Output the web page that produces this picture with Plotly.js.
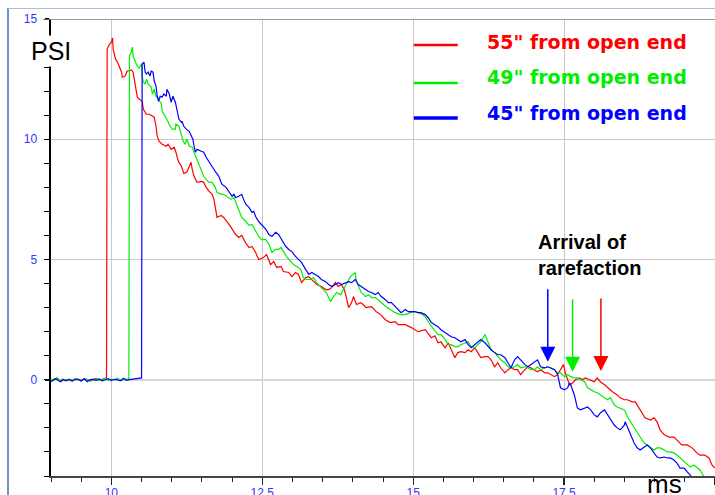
<!DOCTYPE html>
<html>
<head>
<meta charset="utf-8">
<script src="https://cdn.plot.ly/plotly-3.0.1.min.js"></script>
<style>
  html, body { margin: 0; padding: 0; background: #fff; overflow: hidden; }
  #frame { position: absolute; left: 7px; top: 8px; width: 720px; height: 500px;
           border-left: 2px solid #6f93c2; border-top: 1px solid #a9bfdc; pointer-events: none; }
  #chart { position: absolute; left: 0; top: 0; width: 715px; height: 495px; }
</style>
</head>
<body>
<div id="frame"></div>
<div id="chart"></div>
<script>
// Pressure traces: [time in ms, pressure in PSI]
const psi55 = [
  [9.00,-0.05],[9.05,0.02],[9.10,0.08],[9.15,-0.04],[9.20,0.03],[9.25,-0.02],[9.30,0.00],[9.35,-0.06],[9.40,0.04],[9.45,0.01],
  [9.50,-0.03],[9.55,0.05],[9.60,0.00],[9.65,-0.04],[9.70,0.02],[9.75,0.06],[9.80,-0.02],[9.85,0.03],[9.90,0.05],[9.92,0.08],
  [9.93,13.75],[9.97,13.96],[10.00,14.04],[10.02,14.21],[10.03,13.75],[10.07,13.33],[10.10,13.21],[10.13,13.00],[10.17,12.79],[10.18,12.58],
  [10.23,12.63],[10.26,12.83],[10.33,12.88],[10.36,12.79],[10.38,12.50],[10.41,12.08],[10.43,11.75],[10.46,11.67],[10.51,11.58],[10.53,11.25],
  [10.58,11.04],[10.63,11.04],[10.68,10.96],[10.71,10.92],[10.74,10.54],[10.76,10.13],[10.79,9.92],[10.84,9.79],[10.91,9.71],[10.94,9.79],
  [10.99,9.58],[11.04,9.67],[11.07,9.46],[11.11,9.08],[11.16,8.88],[11.20,8.58],[11.25,8.63],[11.29,8.83],[11.32,9.04],[11.34,8.75],
  [11.37,8.46],[11.42,8.21],[11.49,8.25],[11.53,8.21],[11.57,8.00],[11.62,7.83],[11.67,7.71],[11.70,7.50],[11.73,7.08],[11.75,6.75],
  [11.82,6.83],[11.86,6.75],[11.95,6.46],[12.00,6.25],[12.06,6.04],[12.11,5.92],[12.16,6.00],[12.23,5.67],[12.28,5.50],[12.33,5.54],
  [12.39,5.29],[12.44,5.00],[12.52,5.08],[12.57,5.21],[12.64,4.79],[12.69,4.92],[12.74,4.67],[12.81,4.71],[12.85,4.50],[12.94,4.46],
  [12.99,4.29],[13.05,4.46],[13.10,4.38],[13.15,4.04],[13.22,4.25],[13.27,4.29],[13.32,4.17],[13.40,3.96],[13.48,3.88],[13.55,3.75],
  [13.60,3.75],[13.65,3.83],[13.71,4.04],[13.76,3.88],[13.81,3.96],[13.86,3.75],[13.89,3.46],[13.93,3.00],[13.98,3.21],[14.01,3.46],
  [14.06,3.13],[14.13,3.21],[14.17,3.13],[14.22,3.00],[14.31,3.04],[14.39,2.83],[14.46,2.71],[14.54,2.50],[14.62,2.38],[14.70,2.42],
  [14.75,2.29],[14.87,2.29],[14.97,2.17],[15.08,2.00],[15.20,2.08],[15.30,1.75],[15.36,1.83],[15.41,1.54],[15.46,1.58],[15.53,1.33],
  [15.58,1.54],[15.63,1.25],[15.69,0.92],[15.74,1.13],[15.79,1.17],[15.86,1.13],[15.91,1.25],[15.96,1.17],[16.02,1.33],[16.07,1.13],
  [16.12,0.92],[16.19,0.96],[16.24,0.96],[16.29,0.83],[16.35,0.54],[16.40,0.71],[16.45,0.50],[16.52,0.29],[16.57,0.42],[16.62,0.50],
  [16.68,0.42],[16.73,0.42],[16.78,0.21],[16.85,0.42],[16.90,0.54],[16.95,0.50],[17.01,0.42],[17.06,0.33],[17.11,0.42],[17.18,0.29],
  [17.23,0.29],[17.28,0.21],[17.34,0.13],[17.39,0.21],[17.44,0.42],[17.49,0.63],[17.52,0.29],[17.59,-0.21],[17.64,-0.13],[17.69,0.00],
  [17.76,0.08],[17.80,0.00],[17.85,0.08],[17.92,0.00],[18.00,-0.08],[18.05,0.08],[18.10,-0.08],[18.17,-0.21],[18.22,-0.33],[18.30,-0.50],
  [18.38,-0.63],[18.43,-0.75],[18.50,-0.83],[18.55,-0.83],[18.63,-0.92],[18.68,-0.92],[18.74,-1.17],[18.79,-1.38],[18.84,-1.58],[18.93,-1.67],
  [18.99,-1.58],[19.04,-1.75],[19.09,-2.08],[19.16,-2.29],[19.24,-2.38],[19.32,-2.38],[19.41,-2.58],[19.45,-2.71],[19.54,-2.71],[19.62,-2.83],
  [19.70,-3.04],[19.75,-3.13],[19.83,-3.13],[19.90,-3.25],[19.95,-3.54],[20.00,-3.67]
];

const psi49 = [
  [9.00,-0.03],[9.05,0.04],[9.10,0.07],[9.15,-0.05],[9.20,0.02],[9.25,-0.01],[9.30,0.03],[9.35,-0.07],[9.40,0.05],[9.45,0.00],
  [9.50,-0.04],[9.55,0.04],[9.60,0.02],[9.65,-0.05],[9.70,0.01],[9.75,0.05],[9.80,-0.03],[9.85,0.02],[9.90,0.06],[9.95,-0.02],
  [10.00,0.03],[10.05,0.00],[10.10,0.07],[10.15,-0.02],[10.20,0.01],[10.25,0.03],[10.29,0.04],
  [10.30,13.46],[10.33,13.63],[10.35,13.83],[10.36,13.46],[10.40,13.21],[10.43,13.04],[10.46,12.96],[10.50,13.13],[10.51,12.63],[10.53,12.38],
  [10.56,12.29],[10.58,12.50],[10.61,12.29],[10.66,12.17],[10.68,11.88],[10.71,12.08],[10.74,11.79],[10.78,11.67],[10.83,11.46],[10.84,11.17],
  [10.89,10.96],[10.92,10.83],[10.97,10.54],[11.01,10.42],[11.06,10.42],[11.07,10.63],[11.12,10.54],[11.16,10.13],[11.19,9.92],[11.22,9.79],
  [11.25,10.00],[11.29,9.71],[11.34,9.67],[11.37,9.46],[11.42,9.17],[11.49,8.75],[11.53,8.46],[11.57,8.33],[11.62,8.21],[11.67,8.21],
  [11.72,8.00],[11.75,7.79],[11.82,7.71],[11.86,7.71],[11.91,7.63],[11.98,7.50],[12.03,7.58],[12.06,7.38],[12.11,7.00],[12.16,6.75],
  [12.23,6.58],[12.28,6.42],[12.33,6.46],[12.39,6.17],[12.44,5.96],[12.49,5.83],[12.56,5.83],[12.61,5.63],[12.66,5.29],[12.72,5.42],
  [12.77,5.42],[12.81,5.50],[12.85,5.33],[12.90,5.13],[12.97,4.92],[13.02,4.79],[13.07,4.71],[13.14,4.58],[13.18,4.25],[13.23,4.17],
  [13.30,4.17],[13.35,4.25],[13.40,4.04],[13.47,3.88],[13.51,3.75],[13.56,3.63],[13.63,3.25],[13.68,3.46],[13.73,3.63],[13.80,3.54],
  [13.84,3.75],[13.89,3.96],[13.96,4.29],[14.01,4.38],[14.04,4.46],[14.06,4.08],[14.09,3.88],[14.14,3.63],[14.21,3.46],[14.26,3.54],
  [14.31,3.42],[14.37,3.42],[14.42,3.33],[14.47,3.21],[14.55,3.04],[14.62,2.92],[14.70,2.79],[14.79,2.71],[14.87,2.71],[14.95,2.79],
  [15.03,2.83],[15.08,2.79],[15.16,2.71],[15.21,2.58],[15.28,2.29],[15.35,2.08],[15.41,1.88],[15.46,1.88],[15.53,1.67],[15.58,1.46],
  [15.63,1.46],[15.69,1.38],[15.74,1.38],[15.79,1.46],[15.86,1.54],[15.91,1.58],[15.96,1.38],[16.02,1.33],[16.07,1.46],[16.12,1.58],
  [16.19,1.88],[16.24,1.58],[16.29,1.25],[16.35,1.13],[16.40,0.96],[16.45,0.83],[16.52,0.71],[16.57,0.54],[16.62,0.50],[16.68,0.54],
  [16.73,0.63],[16.78,0.50],[16.85,0.54],[16.90,0.50],[16.95,0.42],[17.01,0.42],[17.06,0.54],[17.11,0.42],[17.18,0.50],[17.23,0.54],
  [17.28,0.50],[17.34,0.42],[17.39,0.29],[17.44,0.29],[17.51,0.13],[17.56,0.21],[17.61,0.13],[17.67,0.08],[17.72,0.08],[17.77,0.00],
  [17.84,-0.08],[17.89,-0.33],[17.94,-0.42],[18.00,-0.50],[18.05,-0.54],[18.10,-0.63],[18.17,-0.75],[18.22,-0.83],[18.27,-0.75],[18.33,-1.04],
  [18.38,-1.13],[18.43,-1.17],[18.50,-1.25],[18.55,-1.54],[18.60,-1.75],[18.66,-2.00],[18.71,-2.17],[18.76,-2.38],[18.83,-2.63],[18.88,-2.71],
  [18.93,-2.79],[18.99,-2.92],[19.04,-2.83],[19.09,-2.83],[19.16,-2.92],[19.21,-3.00],[19.26,-3.00],[19.32,-3.04],[19.37,-3.13],[19.42,-3.25],
  [19.49,-3.42],[19.54,-3.54],[19.59,-3.63],[19.65,-3.54],[19.70,-3.63],[19.75,-3.75],[19.82,-4.04],[19.87,-4.25]
];

const psi45 = [
  [9.00,-0.08],[9.04,-0.02],[9.08,0.04],[9.12,-0.03],[9.16,-0.08],[9.20,0.00],[9.25,-0.04],[9.30,0.02],[9.35,-0.03],[9.40,0.00],
  [9.45,0.03],[9.50,-0.05],[9.55,0.04],[9.60,-0.08],[9.65,0.01],[9.70,0.02],[9.75,-0.02],[9.80,0.04],[9.85,-0.04],[9.90,0.00],
  [9.95,0.05],[10.00,-0.03],[10.05,0.02],[10.10,0.00],[10.15,-0.04],[10.20,0.06],[10.25,-0.02],[10.30,0.01],[10.35,0.03],[10.40,0.04],
  [10.45,0.06],[10.50,0.08],
  [10.51,13.13],[10.54,13.21],[10.56,12.79],[10.58,12.71],[10.61,12.79],[10.64,12.63],[10.66,12.83],[10.69,12.79],[10.71,12.42],[10.74,12.21],
  [10.76,11.79],[10.78,11.58],[10.81,11.79],[10.84,11.75],[10.87,11.88],[10.91,11.79],[10.92,12.08],[10.96,11.88],[10.99,11.54],[11.02,11.79],
  [11.06,11.54],[11.09,11.13],[11.12,10.83],[11.16,10.71],[11.17,10.75],[11.20,10.54],[11.24,10.42],[11.29,10.33],[11.32,10.13],[11.35,10.00],
  [11.39,9.46],[11.42,9.58],[11.49,9.50],[11.53,9.46],[11.57,9.25],[11.62,9.04],[11.67,8.83],[11.73,8.63],[11.78,8.46],[11.83,8.13],
  [11.90,8.00],[11.95,7.79],[12.00,7.63],[12.03,7.71],[12.06,7.58],[12.11,7.63],[12.16,7.71],[12.19,7.50],[12.23,7.29],[12.28,7.17],
  [12.33,6.96],[12.36,7.00],[12.39,6.79],[12.44,6.58],[12.49,6.46],[12.56,6.25],[12.61,6.04],[12.66,5.96],[12.72,6.13],[12.77,6.04],
  [12.82,5.83],[12.89,5.54],[12.94,5.42],[12.99,5.33],[13.05,5.13],[13.10,5.00],[13.15,4.88],[13.22,4.58],[13.27,4.38],[13.32,4.46],
  [13.38,4.38],[13.43,4.29],[13.48,4.17],[13.55,4.08],[13.60,3.96],[13.65,3.88],[13.71,3.96],[13.76,4.04],[13.81,3.96],[13.88,4.04],
  [13.93,4.08],[13.98,4.04],[14.04,4.17],[14.09,3.96],[14.14,3.88],[14.21,3.75],[14.26,3.67],[14.31,3.63],[14.37,3.54],[14.42,3.63],
  [14.47,3.46],[14.54,3.33],[14.59,3.21],[14.64,3.21],[14.70,3.04],[14.75,2.92],[14.80,2.79],[14.87,2.92],[14.92,2.83],[14.97,2.83],
  [15.03,2.83],[15.08,2.79],[15.13,2.79],[15.20,2.71],[15.25,2.58],[15.30,2.38],[15.36,2.29],[15.41,2.21],[15.46,2.08],[15.53,1.96],
  [15.58,1.88],[15.63,1.79],[15.69,1.75],[15.74,1.67],[15.79,1.58],[15.86,1.67],[15.91,1.46],[15.96,1.33],[16.02,1.46],[16.07,1.58],
  [16.12,1.67],[16.19,1.54],[16.24,1.38],[16.29,1.25],[16.35,1.13],[16.40,1.04],[16.45,1.04],[16.52,0.92],[16.57,0.71],[16.62,0.50],
  [16.68,0.83],[16.73,0.96],[16.78,0.83],[16.85,0.63],[16.90,0.54],[16.95,0.63],[17.01,0.71],[17.06,0.83],[17.11,0.54],[17.18,0.50],
  [17.23,0.54],[17.28,0.50],[17.34,0.42],[17.39,0.25],[17.44,-0.33],[17.51,-0.42],[17.56,-0.33],[17.59,-0.13],[17.61,-0.21],[17.67,-0.63],
  [17.72,-1.17],[17.77,-1.25],[17.84,-1.17],[17.89,-1.13],[17.94,-1.25],[18.00,-1.46],[18.05,-1.54],[18.10,-1.38],[18.17,-1.25],[18.22,-1.46],
  [18.27,-1.67],[18.33,-1.88],[18.38,-2.00],[18.43,-2.08],[18.50,-1.88],[18.51,-1.75],[18.55,-1.96],[18.60,-2.29],[18.66,-2.63],[18.71,-2.83],
  [18.76,-2.92],[18.83,-2.79],[18.88,-2.71],[18.93,-2.83],[18.99,-3.04],[19.04,-3.21],[19.09,-3.25],[19.16,-3.21],[19.21,-3.25],[19.26,-3.25],
  [19.32,-3.33],[19.37,-3.46],[19.42,-3.67],[19.49,-3.67],[19.54,-3.83],[19.59,-3.96],[19.65,-4.17]
];

const seriesNames = ['55" from open end', '49" from open end', '45" from open end'];
const seriesData = [psi55, psi49, psi45];

// Rarefaction arrival markers: time (ms) and pressure (PSI) at the arrow tip
const arrivalMs = [18.11, 17.64, 17.23];
const arrivalPsi = [0.37, 0.33, 0.75];

const xTickVals = [10, 12.5, 15, 17.5, 20];
const xTickText = ['10', '12.5', '15', '17.5', '20'];
const yTickVals = [0, 5, 10, 15];
const yTickText = ['0', '5', '10', '15'];

const lineColors = ['#ff0000', '#00ee00', '#0000ff'];
const tickBlue = '#3535ff';
const FONT = 'Liberation Sans, Arial, sans-serif';

const traces = seriesData.map((pts, i) => ({
  type: 'scatter', mode: 'lines', name: seriesNames[i],
  x: pts.map(p => p[0]), y: pts.map(p => p[1]),
  line: { color: lineColors[i], width: 1.2 },
  hoverinfo: 'skip'
}));

// hand-built legend (line sample + label), stacked near the top right
const legendLineY = [0.9431, 0.8600, 0.7834];
const legendTextY = [0.9497, 0.8731, 0.7943];
const legendLineW = [2.5, 2.5, 3.5];

const shapes = [
  { type: 'line', xref: 'paper', yref: 'y', x0: -0.012, x1: 1, y0: 15, y1: 15,
    line: { color: '#7a7a7a', width: 1.3 } }
];
const annotations = [
  { xref: 'paper', yref: 'y', x: 0, y: 13.65, text: 'PSI', showarrow: false,
    font: { family: FONT, size: 25, color: '#000' }, bgcolor: '#ffffff', borderpad: 1,
    xanchor: 'center', yanchor: 'middle' },
  { xref: 'x', yref: 'paper', x: 19.17, y: -0.0175, text: 'ms', showarrow: false,
    font: { family: FONT, size: 26, color: '#000' }, xanchor: 'center', yanchor: 'middle' },
  { xref: 'paper', yref: 'paper', x: 0.730, y: 0.4836, text: '<b>Arrival of<br>rarefaction</b>',
    showarrow: false, align: 'left', xanchor: 'left', yanchor: 'middle',
    font: { family: FONT, size: 20, color: '#000' } }
];

seriesNames.forEach((name, i) => {
  shapes.push({ type: 'line', xref: 'paper', yref: 'paper', x0: 0.5464, x1: 0.6126,
    y0: legendLineY[i], y1: legendLineY[i], line: { color: lineColors[i], width: legendLineW[i] } });
  annotations.push({ xref: 'paper', yref: 'paper', x: 0.6532, y: legendTextY[i],
    text: '<b>' + name + '</b>', showarrow: false,
    xanchor: 'left', yanchor: 'middle',
    font: { family: 'DejaVu Sans, sans-serif', size: 19, color: lineColors[i] } });
  annotations.push({ xref: 'x', yref: 'y', x: arrivalMs[i], y: arrivalPsi[i], ax: 0, ay: -74,
    text: '', showarrow: true, arrowhead: 2, arrowsize: 2, arrowwidth: 1.5,
    arrowcolor: lineColors[i], standoff: 0 });
});

const layout = {
  width: 715, height: 495,
  margin: { l: 51, r: 0, t: 19, b: 19, pad: 0 },
  paper_bgcolor: 'rgba(0,0,0,0)', plot_bgcolor: 'rgba(0,0,0,0)',
  showlegend: false,
  font: { family: FONT, size: 12, color: '#000' },
  xaxis: {
    range: [9, 20], tickmode: 'array', tickvals: xTickVals, ticktext: xTickText,
    ticks: 'outside', ticklen: 7, tickwidth: 1.3, tickcolor: '#222',
    showline: true, linecolor: '#444', linewidth: 1.5,
    showgrid: true, gridcolor: '#c8c8c8', gridwidth: 1, zeroline: false,
    tickfont: { family: FONT, size: 12, color: tickBlue }, ticklabelstandoff: -2,
    minor: { tickmode: 'linear', tick0: 9, dtick: 0.5, ticks: 'outside', ticklen: 4,
             tickwidth: 1, tickcolor: '#222', showgrid: false },
    fixedrange: true
  },
  xaxis2: {
    overlaying: 'x', anchor: 'y', side: 'bottom', range: [9, 20],
    tickmode: 'array', tickvals: xTickVals, ticks: 'inside', ticklen: 8, tickwidth: 1.3, tickcolor: '#222',
    showticklabels: false, showgrid: false, zeroline: false, showline: false,
    minor: { tickmode: 'linear', tick0: 9, dtick: 0.5, ticks: 'inside', ticklen: 3,
             tickwidth: 1, tickcolor: '#222', showgrid: false },
    fixedrange: true
  },
  yaxis: {
    range: [-4, 15], tickmode: 'array', tickvals: yTickVals, ticktext: yTickText,
    ticks: 'outside', ticklen: 4, tickwidth: 1.5, tickcolor: '#000',
    showline: true, linecolor: '#000', linewidth: 2.5,
    showgrid: true, gridcolor: '#c8c8c8', gridwidth: 1,
    zeroline: true, zerolinecolor: '#d6d6d6', zerolinewidth: 2,
    tickfont: { family: FONT, size: 12, color: tickBlue }, ticklabelstandoff: 5,
    minor: { tickmode: 'linear', tick0: 0, dtick: 1, ticks: 'outside', ticklen: 5,
             tickwidth: 1, tickcolor: '#000', showgrid: false },
    fixedrange: true
  },
  yaxis2: {
    overlaying: 'y', anchor: 'x', side: 'left', range: [-4, 15],
    tickmode: 'array', tickvals: yTickVals, ticks: 'inside', ticklen: 9, tickwidth: 1.5, tickcolor: '#000',
    showticklabels: false, showgrid: false, zeroline: false, showline: false,
    minor: { tickmode: 'linear', tick0: 0, dtick: 1, ticks: 'inside', ticklen: 5,
             tickwidth: 1, tickcolor: '#000', showgrid: false },
    fixedrange: true
  },
  shapes: shapes,
  annotations: annotations
};

Plotly.newPlot('chart', traces, layout, { staticPlot: true, displayModeBar: false });
</script>
</body>
</html>
